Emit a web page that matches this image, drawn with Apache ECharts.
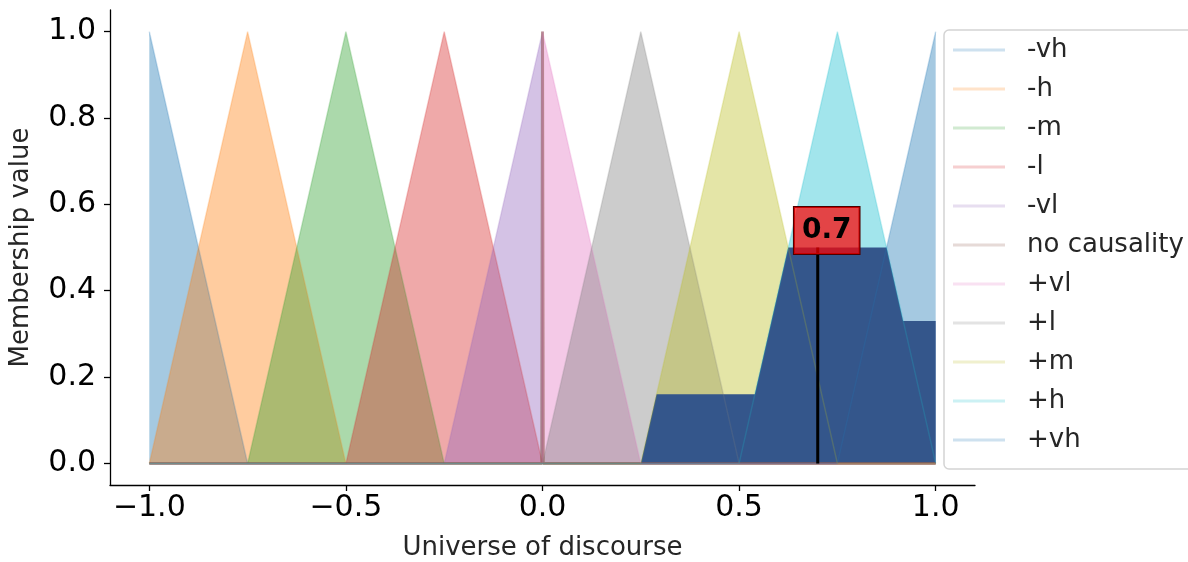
<!DOCTYPE html>
<html>
<head>
<meta charset="utf-8">
<script src="https://cdn.jsdelivr.net/npm/echarts@6/dist/echarts.min.js"></script>
<style>
html,body{margin:0;padding:0;background:#fff;}
#chart{width:1188px;height:562px;}
</style>
</head>
<body>
<div id="chart"></div>
<script>
// Linguistic terms and triangular membership parameters [a, b, c]
const terms = ['-vh', '-h', '-m', '-l', '-vl', 'no causality', '+vl', '+l', '+m', '+h', '+vh'];
const mfA = [-1.0, -1.0, -0.75, -0.5, -0.25, -0.002, 0.0, 0.0, 0.25, 0.5, 0.75];
const mfB = [-1.0, -0.75, -0.5, -0.25, 0.0, 0.0, 0.0, 0.25, 0.5, 0.75, 1.0];
const mfC = [-0.75, -0.5, -0.25, 0.0, 0.0, 0.002, 0.25, 0.5, 0.75, 1.0, 1.0];

// Aggregated (clipped) output area
const aggX = [0.25, 0.29, 0.54, 0.625, 0.875, 0.917, 1.0];
const aggY = [0.0, 0.16, 0.16, 0.5, 0.5, 0.33, 0.33];

// Crisp (defuzzified) output
const crispX = 0.7;
const crispY = 0.5;

const xTicks = [-1.0, -0.5, 0.0, 0.5, 1.0];
const yTicks = [0.0, 0.2, 0.4, 0.6, 0.8, 1.0];

const palette = ['#1f77b4', '#ff7f0e', '#2ca02c', '#d62728', '#9467bd', '#8c564b',
                 '#e377c2', '#7f7f7f', '#bcbd22', '#17becf', '#1f77b4'];

function pale(hex, a) {
  const r = parseInt(hex.slice(1, 3), 16), g = parseInt(hex.slice(3, 5), 16), b = parseInt(hex.slice(5, 7), 16);
  const m = v => Math.round(255 - a * (255 - v));
  return 'rgb(' + m(r) + ',' + m(g) + ',' + m(b) + ')';
}

function mfPoints(i) {
  const pts = [];
  const a = mfA[i], b = mfB[i], c = mfC[i];
  if (a > -1) { pts.push([-1, 0]); pts.push([a, 0]); }
  else if (a < b) { pts.push([a, 0]); }
  pts.push([b, 1]);
  if (c < 1) { pts.push([c, 0]); pts.push([1, 0]); }
  else if (c > b) { pts.push([c, 0]); }
  return pts;
}

const series = [];
terms.forEach((t, i) => {
  series.push({
    name: t,
    type: 'line',
    data: mfPoints(i),
    symbol: 'none',
    z: 2,
    color: palette[i],
    lineStyle: { width: 0, opacity: 0 },
    areaStyle: { color: palette[i], opacity: 0.4, origin: 'auto' },
    silent: true
  });
});

series.push({
  name: 'aggregate',
  type: 'line',
  data: aggX.map((x, i) => [x, aggY[i]]),
  symbol: 'none',
  z: 3,
  lineStyle: { width: 0, opacity: 0 },
  areaStyle: { color: '#34568b', opacity: 1 },
  silent: true
});

terms.forEach((t, i) => {
  const isSpike = t === 'no causality';
  series.push({
    name: 'outline ' + t,
    type: 'line',
    data: mfPoints(i),
    symbol: 'none',
    z: 4,
    lineStyle: { color: palette[i], width: isSpike ? 3 : 1.5, opacity: isSpike ? 0.55 : 0.22 },
    silent: true
  });
});

series.push({
  name: 'crisp line',
  type: 'line',
  data: [[crispX, 0], [crispX, crispY]],
  symbol: 'none',
  z: 5,
  lineStyle: { color: '#000', width: 3 },
  silent: true
});

series.push({
  name: 'crisp label',
  type: 'scatter',
  data: [[crispX, crispY]],
  symbolSize: 0,
  z: 6,
  itemStyle: { opacity: 1 },
  label: {
    show: true,
    position: 'inside',
    offset: [9, -17],
    formatter: p => p.value[0].toFixed(1),
    fontFamily: 'DejaVu Sans',
    fontSize: 28,
    fontWeight: 'bold',
    color: '#000',
    opacity: 1,
    lineHeight: 28,
    backgroundColor: 'rgba(255,0,0,0.7)',
    borderColor: '#4a0000',
    borderWidth: 1,
    padding: [10, 8, 9, 8]
  },
  silent: true
});

const chart = echarts.init(document.getElementById('chart'), null, { renderer: 'canvas' });
chart.setOption({
  animation: false,
  backgroundColor: '#fff',
  textStyle: { fontFamily: 'DejaVu Sans' },
  grid: { left: 110, right: 213, top: 10, bottom: 77, containLabel: false, outerBoundsMode: 'none' },
  xAxis: {
    type: 'value',
    min: -1.1,
    max: 1.1,
    name: 'Universe of discourse',
    nameLocation: 'middle',
    nameGap: 50,
    nameTextStyle: { fontFamily: 'DejaVu Sans', fontSize: 26, color: '#262626' },
    axisLine: { show: true, onZero: false, lineStyle: { color: '#000', width: 1.3 } },
    axisTick: { show: true, inside: false, length: 6, customValues: xTicks, lineStyle: { color: '#000', width: 1.3 } },
    axisLabel: {
      show: true, customValues: xTicks, margin: 8,
      fontFamily: 'DejaVu Sans', fontSize: 30, color: '#000',
      formatter: v => (v < 0 ? '\u2212' : '') + Math.abs(v).toFixed(1)
    },
    splitLine: { show: false }
  },
  yAxis: {
    type: 'value',
    min: -0.05,
    max: 1.05,
    name: 'Membership value',
    nameLocation: 'middle',
    nameGap: 76,
    nameRotate: 90,
    nameTextStyle: { fontFamily: 'DejaVu Sans', fontSize: 26, color: '#262626' },
    axisLine: { show: true, onZero: false, lineStyle: { color: '#000', width: 1.3 } },
    axisTick: { show: true, inside: false, length: 6, customValues: yTicks, lineStyle: { color: '#000', width: 1.3 } },
    axisLabel: {
      show: true, customValues: yTicks, margin: 14,
      fontFamily: 'DejaVu Sans', fontSize: 30, color: '#000',
      formatter: v => v.toFixed(1)
    },
    splitLine: { show: false }
  },
  legend: {
    show: true,
    orient: 'vertical',
    left: 944,
    top: 30,
    align: 'left',
    backgroundColor: '#fff',
    borderColor: '#d4d4d4',
    borderWidth: 1.5,
    borderRadius: 5,
    padding: [7, 40, 16, 9],
    itemGap: 13,
    itemWidth: 52,
    itemHeight: 3,
    icon: 'rect',
    selectedMode: false,
    textStyle: { fontFamily: 'DejaVu Sans', fontSize: 26, color: '#262626', padding: [0, 0, 0, 17] },
    data: terms.map((t, i) => ({ name: t, icon: 'rect', itemStyle: { color: pale(palette[i], 0.22), opacity: 1 } }))
  },
  series: series
});
</script>
</body>
</html>
